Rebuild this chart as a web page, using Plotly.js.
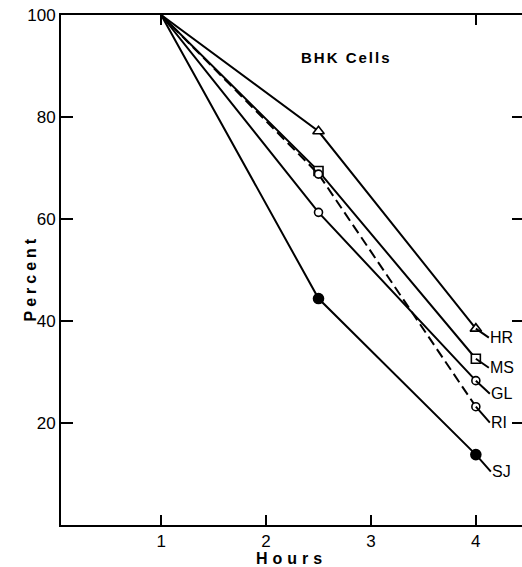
<!DOCTYPE html>
<html>
<head>
<meta charset="utf-8">
<script src="https://cdn.plot.ly/plotly-3.0.1.min.js"></script>
<style>html,body{margin:0;padding:0;background:#fff;}#chart{width:522px;height:567px;}</style>
</head>
<body>
<div id="chart"></div>
<script>
// ---- data ----
const hours = [1, 2.5, 4];
const HR = [100, 77.2, 38.5];
const MS = [100, 69.4, 32.6];
const GL = [100, 61.3, 28.3];
const RI = [100, 68.8, 23.2];
const SJ = [100, 44.4, 13.8];
const seriesNames = ['HR', 'MS', 'GL', 'RI', 'SJ'];
const xTicks = [1, 2, 3, 4];
const yTicks = [20, 40, 60, 80, 100];

const black = '#000000';
const FONT = 'Liberation Sans, Arial, sans-serif';

function mkSeries(y, symbol, size, fill, dash) {
  return {
    x: hours, y: y, type: 'scatter', mode: 'lines+markers',
    line: {color: black, width: 2, dash: dash || 'solid'},
    marker: {symbol: symbol, size: y.map((v, i) => i === 0 ? 0 : size), color: fill, opacity: 1,
             line: {color: black, width: 1.6}},
    showlegend: false, hoverinfo: 'skip'
  };
}
const data = [
  mkSeries(HR, 'triangle-up', 10, '#ffffff'),
  mkSeries(MS, 'square', 9, '#ffffff'),
  mkSeries(GL, 'circle', 8, '#ffffff'),
  mkSeries(RI, 'circle', 8, '#ffffff', '10px,5px'),
  mkSeries(SJ, 'circle', 10, black)
];
data.push({x: [1], y: [0], xaxis: 'x2', yaxis: 'y2', mode: 'markers', marker: {opacity: 0}, showlegend: false, hoverinfo: 'skip'});

const seriesVals = [HR, MS, GL, RI, SJ];
const labelOffsets = [[13, 9], [13, 9], [14, 13], [14, 16], [15, 17]];
const annotations = seriesNames.map((n, i) => ({
  x: 4, y: seriesVals[i][2], xref: 'x', yref: 'y', text: n,
  showarrow: true, arrowhead: 0, arrowwidth: 2, arrowcolor: black,
  ax: labelOffsets[i][0], ay: labelOffsets[i][1], xanchor: 'left', yanchor: 'middle',
  standoff: 0, startstandoff: 0, borderpad: 0,
  font: {family: FONT, size: 16, color: black}
}));
annotations.push({
  x: (346 - 61) / 461, y: 1 - (47 - 15) / 510, xref: 'paper', yref: 'paper', text: '<b>BHK Cells</b>', showarrow: false,
  font: {family: FONT, size: 15, color: black}
});
annotations.push({
  x: (19 - 61) / 461, y: 1 - (278 - 15) / 510, xref: 'paper', yref: 'paper', text: '<b>Percent</b>', showarrow: false,
  textangle: -90, font: {family: FONT, size: 16, color: black}
});

const tickFont = {family: FONT, size: 17, color: black};
const layout = {
  width: 522, height: 567,
  margin: {l: 61, r: 0, t: 15, b: 42},
  paper_bgcolor: '#fff', plot_bgcolor: '#fff',
  xaxis: {
    range: [0.045, 4.44], tickvals: xTicks, ticktext: xTicks.map(String),
    ticks: 'inside', ticklen: 10, tickwidth: 2, tickcolor: black,
    showline: true, linewidth: 2, linecolor: black, showgrid: false, zeroline: false,
    tickfont: tickFont,
    title: {text: '<b>Hours</b>', font: {family: FONT, size: 16, color: black}, standoff: 5}
  },
  xaxis2: {
    overlaying: 'x', side: 'top', range: [0.045, 4.44], tickvals: [1, 4],
    ticks: 'inside', ticklen: 10, tickwidth: 2, tickcolor: black, showticklabels: false,
    showline: true, linewidth: 2, linecolor: black, showgrid: false, zeroline: false
  },
  yaxis: {
    range: [0, 100], tickvals: yTicks, ticktext: yTicks.map(String),
    ticks: 'inside', ticklen: 12, tickwidth: 2, tickcolor: black,
    showline: true, linewidth: 2, linecolor: black, showgrid: false, zeroline: false,
    tickfont: tickFont
  },
  yaxis2: {
    overlaying: 'y', side: 'right', range: [0, 100], tickvals: [20, 40, 60, 80],
    ticks: 'inside', ticklen: 10, tickwidth: 2, tickcolor: black, showticklabels: false,
    showline: false, showgrid: false, zeroline: false
  },
  annotations: annotations,
  showlegend: false
};

Plotly.newPlot('chart', data, layout, {staticPlot: true}).then(() => {
  document.querySelectorAll('.g-xtitle text').forEach(t => t.style.letterSpacing = '5px');
  document.querySelectorAll('.annotation-text').forEach(t => {
    if (t.textContent === 'BHK Cells') t.style.letterSpacing = '2px';
    if (t.textContent === 'Percent') t.style.letterSpacing = '4px';
  });
});
</script>
</body>
</html>
